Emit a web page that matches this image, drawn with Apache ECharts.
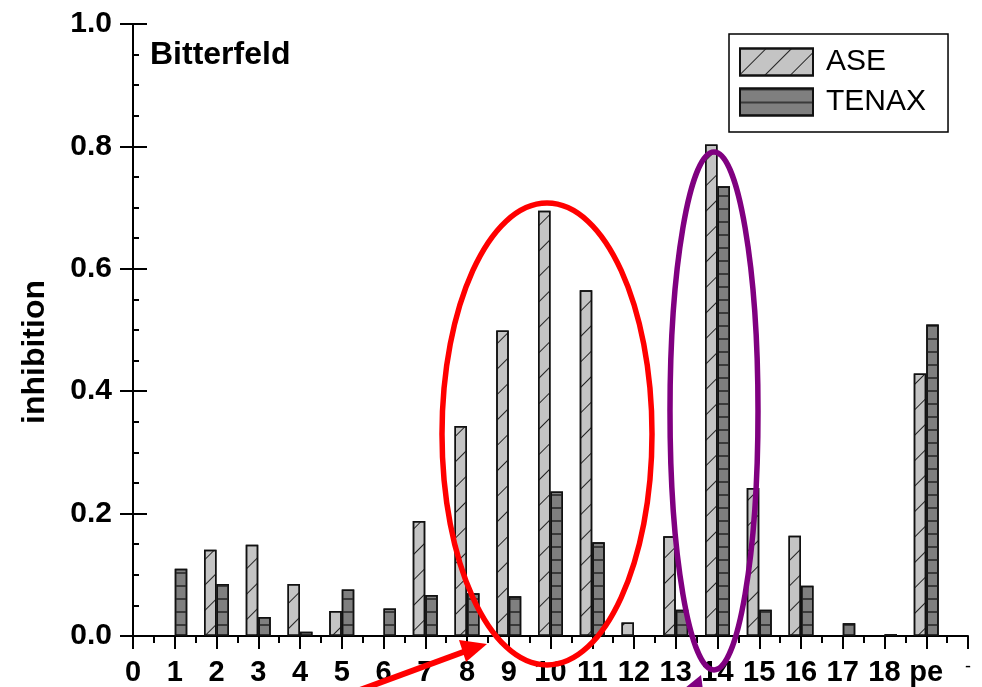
<!DOCTYPE html>
<html>
<head>
<meta charset="utf-8">
<script src="https://cdn.jsdelivr.net/npm/echarts@6/dist/echarts.min.js"></script>
<style>
html,body{margin:0;padding:0;background:#fff;}
#chart{width:982px;height:687px;}
</style>
</head>
<body>
<div id="chart"></div>
<script>
// positions on the x axis (1..19, 19 = "pe")
var positions = [1,2,3,4,5,6,7,8,9,10,11,12,13,14,15,16,17,18,19];
var aseValues   = [null,0.141,0.149,0.085,0.041,null,0.188,0.343,0.499,0.695,0.565,0.022,0.163,0.803,0.242,0.164,null,null,0.429];
var tenaxValues = [0.110,0.085,0.031,0.007,0.076,0.045,0.067,0.070,0.065,0.236,0.153,null,0.043,0.735,0.043,0.082,0.021,0.003,0.509];
var xTickLabels = ['0','1','2','3','4','5','6','7','8','9','10','11','12','13','14','15','16','17','18','pe','-'];
var seriesNames = ['ASE','TENAX'];

var FONT = '"Liberation Sans", Arial, Helvetica, sans-serif';

function pairs(vals){
  var out = [];
  for (var i = 0; i < positions.length; i++) {
    if (vals[i] !== null) out.push([positions[i], vals[i]]);
  }
  return out;
}

var chart = echarts.init(document.getElementById('chart'), null, {renderer:'canvas'});
var option = {
  animation: false,
  backgroundColor: '#ffffff',
  title: {
    text: 'Bitterfeld',
    left: 145, top: 34,
    textStyle: {fontFamily: FONT, fontWeight: 'bold', fontSize: 32, color: '#000'}
  },
  legend: {
    orient: 'vertical',
    left: 729, top: 34,
    padding: [13, 22, 15, 10],
    itemGap: 10,
    itemWidth: 73, itemHeight: 27,
    icon: 'rect',
    borderColor: '#000', borderWidth: 1.5,
    backgroundColor: '#fff',
    textStyle: {fontFamily: FONT, fontSize: 30, color: '#000', lineHeight: 30, padding: [0,0,0,8]},
    data: seriesNames
  },
  grid: {left: 133, right: 14, top: 24, bottom: 50, containLabel: false},
  xAxis: {
    type: 'value', min: 0, max: 20, interval: 1,
    axisLine: {show: true, onZero: false, lineStyle: {color: '#000', width: 2}},
    axisTick: {show: true, inside: false, length: 13, lineStyle: {color: '#000', width: 2}},
    minorTick: {show: true, splitNumber: 2, length: 7, lineStyle: {color: '#000', width: 2}},
    splitLine: {show: false},
    axisLabel: {
      margin: 22, hideOverlap: false, showMinLabel: true, showMaxLabel: true,
      fontFamily: FONT, fontWeight: 'bold', fontSize: 29, color: '#000',
      formatter: function(v){
        var s = xTickLabels[Math.round(v)];
        return s === '-' ? '{d|-}' : s;
      },
      rich: {d: {fontFamily: FONT, fontWeight: 'normal', fontSize: 18, color: '#000'}}
    }
  },
  yAxis: [{
    type: 'value', min: 0, max: 1, interval: 0.2,
    name: 'inhibition', nameLocation: 'middle', nameGap: 82, nameRotate: 90,
    nameTextStyle: {fontFamily: FONT, fontWeight: 'bold', fontSize: 32, color: '#000', padding: [0, 44, 0, 0]},
    axisLine: {show: true, lineStyle: {color: '#000', width: 2}},
    axisTick: {show: true, inside: false, length: 13, lineStyle: {color: '#000', width: 2}},
    splitLine: {show: false},
    axisLabel: {
      margin: 21, fontFamily: FONT, fontWeight: 'bold', fontSize: 30, color: '#000',
      showMinLabel: true, showMaxLabel: true,
      formatter: function(v){ return v.toFixed(1); }
    }
  },{
    type: 'value', min: 0, max: 1, interval: 0.2, position: 'left', offset: 0,
    axisLine: {show: false},
    axisTick: {show: true, inside: true, length: 14, lineStyle: {color: '#000', width: 2}},
    minorTick: {show: true, splitNumber: 4, length: 6, lineStyle: {color: '#000', width: 2}},
    splitLine: {show: false},
    axisLabel: {show: false}
  }],
  series: [{
    name: seriesNames[0], type: 'bar', yAxisIndex: 0,
    barWidth: 12.5, barGap: '0%',
    data: pairs(aseValues),
    itemStyle: {
      color: '#c4c4c4', borderColor: '#111', borderWidth: 1.5,
      decal: {symbol: 'rect', symbolSize: 1, color: '#222', dashArrayX: [1, 0], dashArrayY: [1, 17], rotation: -Math.PI / 4}
    },
    emphasis: {disabled: true}
  },{
    name: seriesNames[1], type: 'bar', yAxisIndex: 0,
    barWidth: 12.5, barGap: '0%',
    data: pairs(tenaxValues),
    itemStyle: {
      color: '#7f7f7f', borderColor: '#111', borderWidth: 1.5,
      decal: {symbol: 'rect', symbolSize: 1, color: '#3a3a3a', dashArrayX: [1, 0], dashArrayY: [1.5, 11], rotation: 0}
    },
    emphasis: {disabled: true}
  }],
  graphic: [
    {type: 'ellipse', z: 100, shape: {cx: 547, cy: 434, rx: 105, ry: 231},
     style: {fill: 'none', stroke: '#ff0000', lineWidth: 5.5}},
    {type: 'ellipse', z: 100, shape: {cx: 714, cy: 411, rx: 44, ry: 259},
     style: {fill: 'none', stroke: '#800080', lineWidth: 5.5}},
    {type: 'line', z: 100, shape: {x1: 360, y1: 690, x2: 466, y2: 651},
     style: {stroke: '#ff0000', lineWidth: 6}},
    {type: 'polygon', z: 100, shape: {points: [[487, 644], [459, 640], [466, 662]]},
     style: {fill: '#ff0000'}},
    {type: 'polygon', z: 100, shape: {points: [[701, 675], [685, 688], [703, 690]]},
     style: {fill: '#800080'}}
  ]
};
chart.setOption(option);
</script>
</body>
</html>
